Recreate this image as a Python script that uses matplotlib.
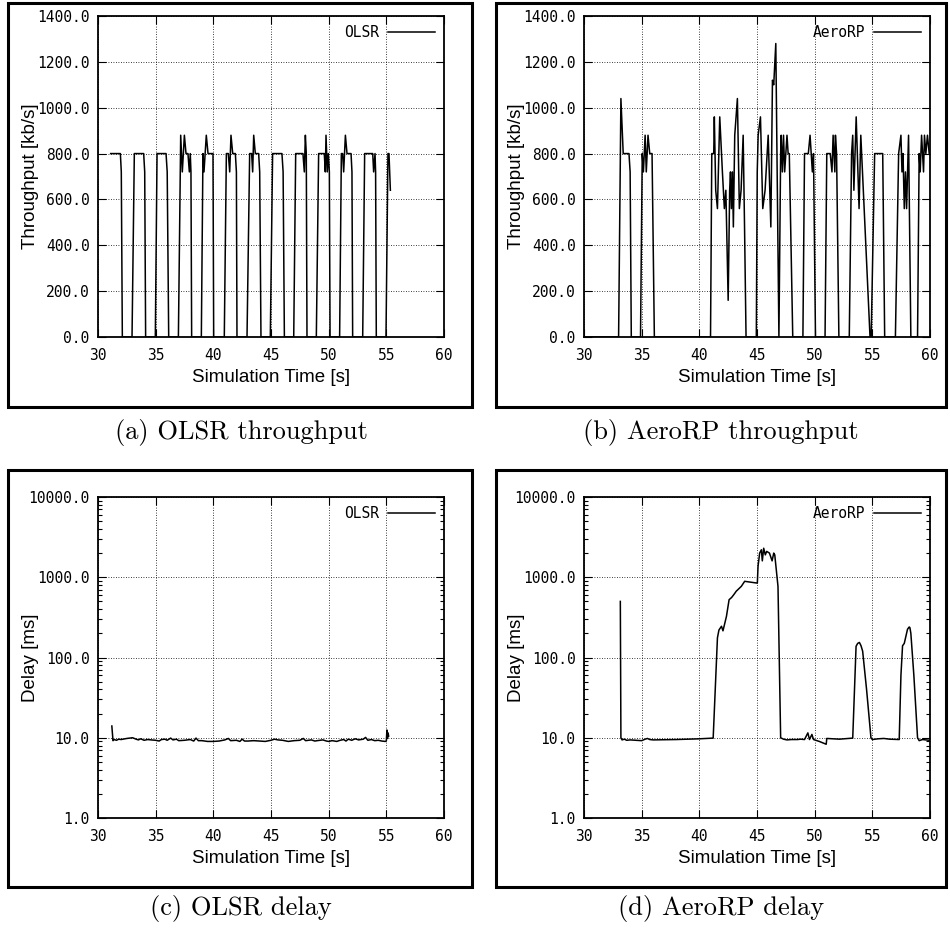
import matplotlib
matplotlib.use('Agg')
import matplotlib.pyplot as plt
from matplotlib.patches import Rectangle
from matplotlib.ticker import FixedLocator, FormatStrFormatter, LogLocator, NullFormatter

# OLSR throughput (time [s], kb/s)
olsr_tp_t = [31.1, 31.94, 32.02, 32.11,
             32.95, 33.15, 33.96, 34.05, 34.13,
             34.97, 35.12, 35.9, 36.0, 36.13,
             36.97, 37.17, 37.31, 37.49, 37.63, 37.8, 37.92, 38.0, 38.06, 38.12,
             38.96, 39.1, 39.19, 39.39, 39.54, 39.97, 40.03,
             40.95, 41.13, 41.3, 41.42, 41.53, 41.68, 41.91, 42.0, 42.05,
             42.92, 43.15, 43.32, 43.41, 43.5, 43.64, 43.93, 44.02, 44.13,
             44.94, 45.14, 45.95, 46.05, 46.16,
             46.97, 47.14, 47.77, 47.89, 47.98, 48.06, 48.12,
             48.93, 49.13, 49.62, 49.71, 49.77, 49.88, 49.97, 50.06, 50.12,
             50.95, 51.1, 51.21, 51.3, 51.45, 51.59, 51.94, 52.02, 52.08,
             52.95, 53.12, 53.82, 53.9, 54.02, 54.07, 54.13,
             54.97, 55.14, 55.23, 55.35]
olsr_tp_v = [800, 800, 720, 0,
             0, 800, 800, 720, 0,
             0, 800, 800, 720, 0,
             0, 880, 720, 880, 800, 800, 720, 800, 720, 0,
             0, 800, 720, 880, 800, 800, 0,
             0, 800, 800, 720, 880, 800, 800, 720, 0,
             0, 800, 800, 720, 880, 800, 800, 720, 0,
             0, 800, 800, 720, 0,
             0, 800, 800, 720, 880, 800, 0,
             0, 800, 800, 720, 880, 720, 800, 720, 0,
             0, 800, 800, 720, 880, 800, 800, 720, 0,
             0, 800, 800, 720, 800, 720, 0,
             0, 800, 800, 640]

# AeroRP throughput
aero_tp_t = [30.0, 33.0, 33.2, 33.4, 33.9, 34.0, 34.1,
             34.9, 35.05, 35.15, 35.3, 35.4, 35.55, 35.7, 35.9, 36.1,
             40.97, 41.08, 41.25, 41.3, 41.42, 41.57, 41.77, 42.0, 42.17, 42.3,
             42.5, 42.63, 42.7, 42.78, 42.87, 42.95, 43.07, 43.3, 43.47, 43.62,
             43.8, 43.92, 44.05,
             44.94, 45.02, 45.1, 45.3, 45.5, 45.7, 45.97, 46.2, 46.34, 46.45,
             46.63, 46.9,
             47.05, 47.1, 47.2, 47.3, 47.4, 47.6, 47.7, 47.8, 48.1,
             48.98, 49.12, 49.45, 49.6, 49.8, 49.9, 50.07,
             50.9, 51.05, 51.35, 51.5, 51.6, 51.75, 51.8, 51.9, 52.1,
             53.0, 53.2, 53.3, 53.4, 53.6, 53.7, 53.85, 54.0, 54.8,
             54.9, 55.2, 55.9, 56.07,
             57.0, 57.28, 57.48, 57.57, 57.66, 57.77, 57.87, 57.97, 58.14, 58.34,
             58.92, 59.06, 59.15, 59.27, 59.44, 59.52, 59.64, 59.78, 59.93, 60.0]
aero_tp_v = [0, 0, 1040, 800, 800, 720, 0,
             0, 800, 720, 880, 720, 880, 800, 800, 0,
             0, 800, 800, 960, 640, 560, 960, 720, 560, 640,
             160, 640, 720, 560, 720, 480, 880, 1040, 560, 640,
             880, 480, 0,
             0, 720, 880, 960, 560, 640, 880, 480, 1120, 1100,
             1280, 0,
             800, 880, 720, 880, 720, 880, 800, 800, 0,
             0, 800, 800, 880, 720, 800, 0,
             0, 800, 800, 720, 880, 720, 880, 800, 0,
             0, 800, 880, 640, 960, 800, 560, 880, 0,
             0, 800, 800, 0,
             0, 800, 880, 720, 800, 560, 720, 560, 880, 0,
             0, 800, 720, 880, 720, 880, 800, 880, 800, 800]

# OLSR delay (ms)
olsr_dl_t = [31.2, 31.3, 31.4, 31.6, 31.8, 32.0, 32.5, 33.0, 33.3, 33.5,
             33.7, 34.0, 34.3, 34.6, 35.0, 35.3, 35.5, 35.8, 36.0, 36.3,
             36.5, 36.8, 37.0, 37.5, 38.0, 38.3, 38.5, 38.7, 39.0, 39.5,
             40.0, 40.5, 41.0, 41.3, 41.5, 42.0, 42.3, 42.5, 42.7, 43.0,
             43.5, 44.0, 44.5, 45.0, 45.3, 45.6, 46.0, 46.5, 47.0, 47.5,
             47.8, 48.0, 48.5, 48.8, 49.0, 49.5, 49.8, 50.0, 50.3, 50.7,
             51.0, 51.3, 51.5, 51.7, 52.0, 52.3, 52.6, 53.0, 53.2, 53.4,
             53.7, 54.0, 54.3, 54.6, 54.9, 55.0, 55.05, 55.1, 55.15, 55.2]
olsr_dl_v = [14.0, 9.2, 9.5, 9.3, 9.6, 9.5, 9.8, 10.0, 9.6, 9.4,
             9.7, 9.3, 9.5, 9.4, 9.3, 9.1, 9.5, 9.6, 9.3, 9.9,
             9.4, 9.6, 9.2, 9.3, 9.5, 9.1, 9.9, 9.2, 9.2, 9.0,
             9.0, 9.1, 9.4, 9.8, 9.2, 9.3, 9.0, 9.6, 9.1, 9.1,
             9.2, 9.1, 9.0, 9.3, 9.6, 9.4, 9.3, 9.0, 9.2, 9.3,
             9.8, 9.2, 9.4, 9.1, 9.2, 9.4, 9.1, 9.0, 9.2, 9.0,
             9.3, 9.5, 9.1, 9.6, 9.3, 9.7, 9.4, 9.6, 10.1, 9.3,
             9.5, 9.2, 9.3, 9.1, 9.0, 9.1, 12.5, 9.8, 11.5, 10.5]

# AeroRP delay (ms)
aero_dl_t = [33.15, 33.2, 33.3, 33.5, 33.7, 34.0, 34.5, 35.0, 35.3, 35.5,
             35.7, 36.0, 38.0, 40.0, 41.2, 41.57, 41.7, 41.92, 42.05, 42.35,
             42.58, 42.8, 43.0, 43.2, 43.64, 43.93, 45.03, 45.09, 45.23, 45.38,
             45.46, 45.58, 45.72, 45.84, 46.08, 46.31, 46.45, 46.54, 46.82, 47.05,
             47.3, 47.6, 48.0, 48.5, 48.8, 49.12, 49.41, 49.55, 49.76, 49.9,
             50.4, 51.0, 51.05, 52.15, 53.3, 53.59, 53.73, 53.88, 54.02, 54.16,
             54.5, 54.88, 55.0, 55.5, 56.0, 56.5, 57.33, 57.48, 57.62, 57.77,
             58.05, 58.2, 58.26, 58.34, 58.6, 58.92, 59.06, 59.35, 59.64, 59.98]
aero_dl_v = [500, 10.0, 9.4, 9.6, 9.3, 9.4, 9.3, 9.2, 9.6, 9.8,
             9.5, 9.4, 9.5, 9.7, 9.9, 176, 220, 245, 215, 325,
             525, 560, 610, 670, 770, 890, 845, 1370, 2000, 2200,
             1600, 2300, 1900, 2100, 2000, 1600, 2000, 1900, 770, 10.0,
             9.6, 9.4, 9.5, 9.5, 9.6, 9.5, 11.5, 9.5, 11.0, 9.5,
             9.0, 8.3, 9.8, 9.6, 9.9, 138, 150, 154, 140, 120,
             40, 10.0, 9.5, 9.7, 9.8, 9.6, 9.5, 60, 140, 150,
             225, 240, 235, 200, 60, 10.0, 9.2, 9.5, 9.4, 9.3]

W, H = 950, 935
fig = plt.figure(figsize=(W / 100, H / 100), dpi=100)

mono = 'DejaVu Sans Mono'
sans = 'Liberation Sans'


def px_axes(left, top, right, bottom):
    return fig.add_axes([left / W, 1 - bottom / H, (right - left) / W, (bottom - top) / H])


def style(ax, ylabel, name):
    ax.set_xlim(30, 60)
    ax.xaxis.set_major_locator(FixedLocator([30, 35, 40, 45, 50, 55, 60]))
    ax.grid(True, which='major', color='black', linestyle=(0, (1, 2)), linewidth=0.6)
    ax.tick_params(which='both', direction='in', top=True, right=True, labelsize=10.5, width=0.8)
    ax.tick_params(which='major', length=6, pad=6)
    ax.tick_params(which='minor', length=3)
    ax.tick_params(axis='x', pad=8)
    for lab in ax.get_xticklabels() + ax.get_yticklabels():
        lab.set_fontfamily(mono)
    for s in ax.spines.values():
        s.set_linewidth(1.3)
    ax.set_xlabel('Simulation Time [s]', fontfamily=sans, fontsize=13.5)
    ax.set_ylabel(ylabel, fontfamily=sans, fontsize=13.5)
    ax.xaxis.set_label_coords(0.5, -0.1)
    ax.yaxis.set_label_coords(-0.17, 0.5)
    ax.legend([name], loc='upper right', frameon=False, markerfirst=False,
              handlelength=3.2, handletextpad=0.6, borderaxespad=0.25,
              prop={'family': mono, 'size': 10.5})


def frame(left, top, right, bottom):
    fig.patches.append(Rectangle((left / W, 1 - bottom / H), (right - left) / W, (bottom - top) / H,
                                 transform=fig.transFigure, fill=False, edgecolor='black',
                                 linewidth=2.2))


frame(8, 3, 472, 407)
frame(496, 3, 946, 407)
frame(8, 470, 472, 887)
frame(496, 470, 946, 887)

axes = [px_axes(98, 16, 444, 337), px_axes(584, 16, 930, 337),
        px_axes(98, 497, 444, 818), px_axes(584, 497, 930, 818)]

series = [(olsr_tp_t, olsr_tp_v, 'OLSR'), (aero_tp_t, aero_tp_v, 'AeroRP'),
          (olsr_dl_t, olsr_dl_v, 'OLSR'), (aero_dl_t, aero_dl_v, 'AeroRP')]

for i, (ax, (t, v, name)) in enumerate(zip(axes, series)):
    ax.plot(t, v, color='black', linewidth=1.1)
    if i < 2:
        ax.set_ylim(0, 1400)
        ax.yaxis.set_major_locator(FixedLocator([0, 200, 400, 600, 800, 1000, 1200, 1400]))
        ax.yaxis.set_major_formatter(FormatStrFormatter('%.1f'))
        style(ax, 'Throughput [kb/s]', name)
    else:
        ax.set_yscale('log')
        ax.set_ylim(1, 10000)
        ax.yaxis.set_major_locator(FixedLocator([1, 10, 100, 1000, 10000]))
        ax.yaxis.set_minor_locator(LogLocator(base=10, subs=range(2, 10)))
        ax.yaxis.set_major_formatter(FormatStrFormatter('%.1f'))
        ax.yaxis.set_minor_formatter(NullFormatter())
        style(ax, 'Delay [ms]', name)

captions = ['(a) OLSR throughput', '(b) AeroRP throughput', '(c) OLSR delay', '(d) AeroRP delay']
cap_pos = [(241, 433), (721, 433), (241, 909), (721, 909)]
for txt, (x, y) in zip(captions, cap_pos):
    fig.text(x / W, 1 - y / H, txt, ha='center', va='center', fontfamily='cmr10', fontsize=19)

fig.savefig('out.png', dpi=100)
